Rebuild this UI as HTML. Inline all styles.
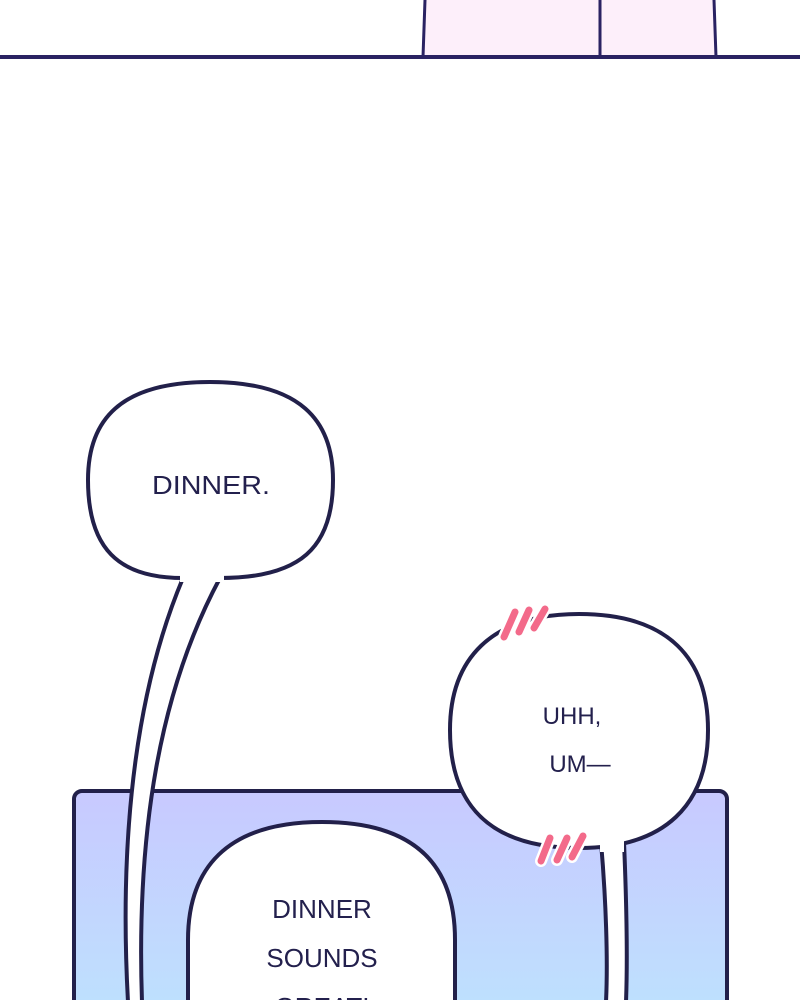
<!DOCTYPE html>
<html><head><style>
html,body{margin:0;padding:0;background:#fff;}
svg{display:block;}
text{font-family:"Liberation Sans",sans-serif;fill:#23204d;text-anchor:middle;}
</style></head><body>
<svg width="800" height="1000" viewBox="0 0 800 1000">
<defs>
<linearGradient id="g" x1="0" y1="0" x2="0" y2="1">
<stop offset="0" stop-color="#c8c9ff"/>
<stop offset="1" stop-color="#bde2fe"/>
</linearGradient>
</defs>
<path d="M425,0 L423,57 L716,57 L714,0 Z" fill="#fdeffa"/>
<path d="M425,0 L423,57 M600,0 L600,57 M714,0 L716,57" stroke="#2a2262" stroke-width="3" fill="none"/>
<line x1="0" y1="57" x2="800" y2="57" stroke="#2a2262" stroke-width="4"/>
<rect x="74" y="791" width="653" height="230" rx="8" fill="url(#g)" stroke="#22204a" stroke-width="4"/>
<path d="M183,578 C140,680 118,820 128,1002 L142,1002 C136,830 160,690 220,578 Z" fill="#fff" stroke="#22204a" stroke-width="4"/>
<path d="M210,382 C300,382 333,420 333,480 C333,548 300,578 220,578 L183,578 C118,578 88,548 88,480 C88,420 120,382 210,382 Z" fill="#fff" stroke="#22204a" stroke-width="4"/>
<rect x="180" y="572" width="44" height="10" fill="#fff"/>
<text x="211" y="494" font-size="26" textLength="118" lengthAdjust="spacingAndGlyphs">DINNER.</text>
<path d="M601,842 C606,900 608,960 606,1002 L626,1002 C628,950 626,890 624,842 Z" fill="#fff" stroke="#22204a" stroke-width="4"/>
<path d="M579,614 C670,614 708,660 708,730 C708,805 665,848 579,848 C490,848 450,805 450,730 C450,660 490,614 579,614 Z" fill="#fff" stroke="#22204a" stroke-width="4"/>
<rect x="600" y="838" width="24" height="14" fill="#fff"/>
<text x="572" y="724" font-size="24">UHH,</text>
<text x="580" y="772" font-size="24">UM—</text>
<g stroke="#fff" stroke-width="12" stroke-linecap="round">
<path d="M504,637 L515,612 M519,632 L529,610 M534,628 L545,609"/>
<path d="M541,861 L550,838 M557,860 L567,838 M572,857 L583,836"/>
</g>
<g stroke="#f36a8a" stroke-width="7" stroke-linecap="round">
<path d="M504,637 L515,612 M519,632 L529,610 M534,628 L545,609"/>
<path d="M541,861 L550,838 M557,860 L567,838 M572,857 L583,836"/>
</g>
<path d="M322,822 C420,822 455,870 455,940 L455,1010 L188,1010 L188,940 C188,870 225,822 322,822 Z" fill="#fff" stroke="#22204a" stroke-width="4"/>
<text x="322" y="918" font-size="26">DINNER</text>
<text x="322" y="967" font-size="26">SOUNDS</text>
<text x="322" y="1016" font-size="26">GREAT!</text>
</svg>
</body></html>
